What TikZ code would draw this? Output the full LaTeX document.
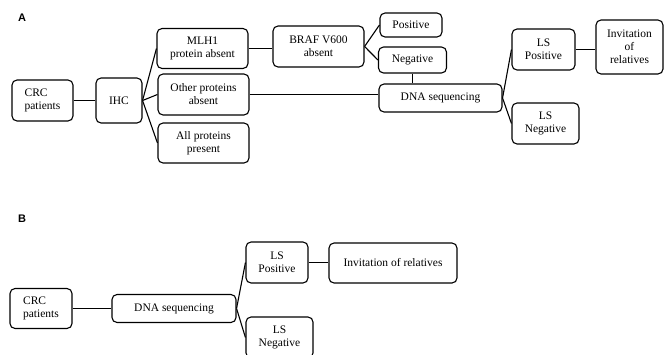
\documentclass[tikz,border=0pt]{standalone}
\usepackage{fontspec}
\setmainfont{Liberation Serif}
\setsansfont{Liberation Sans}
\begin{document}
\begin{tikzpicture}[x=1pt,y=-1pt,
  box/.style={draw,line width=1.1pt,rounded corners=5pt,inner sep=0pt,align=center,
    font=\fontsize{11.5}{13}\selectfont},
  lbl/.style={font=\sffamily\bfseries\fontsize{11}{13}\selectfont},
  conn/.style={line width=1.1pt}]
\useasboundingbox (0,0) rectangle (664,354);
% Panel A
\node[lbl] (la) at (22,18) {A};
\node[box,minimum width=61pt,minimum height=41pt,align=left] (crcA) at (42.5,100.5) {CRC\\patients};
\node[box,minimum width=46pt,minimum height=45pt] (ihc) at (119,100.5) {IHC};
\node[box,minimum width=91pt,minimum height=40pt] (mlh) at (202.5,48.5) {MLH1\\protein absent};
\node[box,minimum width=91pt,minimum height=41pt] (oth) at (203.5,94.5) {Other proteins\\absent};
\node[box,minimum width=91pt,minimum height=40pt] (all) at (203.5,143) {All proteins\\present};
\node[box,minimum width=91pt,minimum height=41pt] (braf) at (318.5,46.5) {BRAF V600\\absent};
\node[box,minimum width=62pt,minimum height=24pt] (pos) at (411,25) {Positive};
\node[box,minimum width=68pt,minimum height=26pt] (neg) at (412.5,60) {Negative};
\node[box,minimum width=123pt,minimum height=28pt] (dnaA) at (440.5,98) {DNA sequencing};
\node[box,minimum width=63pt,minimum height=41pt] (lpA) at (543.5,49.5) {LS\\Positive};
\node[box,minimum width=67pt,minimum height=41pt] (lnA) at (545.5,123.5) {LS\\Negative};
\node[box,minimum width=67pt,minimum height=54pt] (invA) at (629.5,47) {Invitation\\of\\relatives};
\draw[conn] (crcA) -- (ihc);
\draw[conn] (ihc.east) -- (mlh.west);
\draw[conn] (ihc.east) -- (oth.west);
\draw[conn] (ihc.east) -- (all.west);
\draw[conn] (mlh.east) -- (mlh.east -| braf.west);
\draw[conn] (braf.east) -- (pos.west);
\draw[conn] (braf.east) -- (neg.west);
\draw[conn] (neg.south) -- (neg.south |- dnaA.north);
\draw[conn] (oth.east) -- (oth.east -| dnaA.west);
\draw[conn] (dnaA.east) -- (lpA.west);
\draw[conn] (dnaA.east) -- (lnA.west);
\draw[conn] (lpA) -- (lpA -| invA.west);
% Panel B
\node[lbl] (lb) at (22,219) {B};
\node[box,minimum width=62pt,minimum height=40pt,align=left] (crcB) at (41,308.5) {CRC\\patients};
\node[box,minimum width=124pt,minimum height=28pt] (dnaB) at (174,308.5) {DNA sequencing};
\node[box,minimum width=62pt,minimum height=41pt] (lpB) at (277,262.5) {LS\\Positive};
\node[box,minimum width=67pt,minimum height=41pt] (lnB) at (279.5,337.5) {LS\\Negative};
\node[box,minimum width=128pt,minimum height=40pt] (invB) at (393,263) {Invitation of relatives};
\draw[conn] (crcB.east) -- (crcB.east -| dnaB.west);
\draw[conn] (dnaB.east) -- (lpB.west);
\draw[conn] (dnaB.east) -- (lnB.west);
\draw[conn] (lpB) -- (lpB -| invB.west);
\end{tikzpicture}
\end{document}
